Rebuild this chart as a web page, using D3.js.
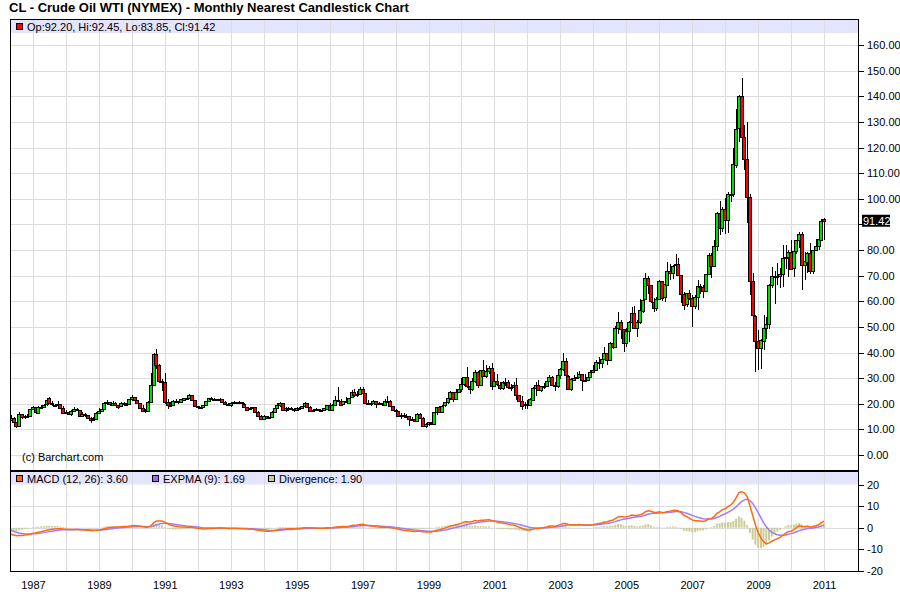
<!DOCTYPE html>
<html><head><meta charset="utf-8">
<script src="https://cdn.jsdelivr.net/npm/d3@7"></script>
<style>
body{margin:0;background:#fff}
svg{display:block}
text{font-family:"Liberation Sans",Arial,Helvetica,sans-serif}
</style>
</head><body>
<svg id="chart" width="900" height="612"></svg>
<script>
// ---------- DATA (monthly, May 1986 .. Jan 2011) ----------
const firstYear = 1986, firstMonth = 4; // May 1986 (0-based month)

const opens = [
/*1986*/ 13.4,14.3,12.8,11.2,15.9,14.8,15.3,15.0,
/*1987*/ 17.9,18.7,16.6,18.8,18.7,19.6,22.2,20.1,19.6,19.6,19.9,18.5,
/*1988*/ 16.7,16.9,16.0,17.1,18.0,17.5,15.2,16.0,15.5,14.5,13.8,14.1,
/*1989*/ 16.4,17.0,17.9,20.1,20.5,19.7,20.3,19.5,18.9,20.2,20.0,19.9,
/*1990*/ 21.8,22.7,21.5,20.3,18.5,17.4,17.1,20.7,27.3,39.5,35.2,28.9,
/*1991*/ 28.4,20.5,19.2,19.6,21.0,21.1,20.6,21.7,22.3,22.2,23.4,21.5,
/*1992*/ 19.1,18.9,18.7,19.4,20.9,22.1,21.6,21.9,21.5,21.7,20.6,19.9,
/*1993*/ 19.5,20.3,20.6,20.4,20.5,20.0,18.9,17.9,18.3,18.8,16.9,15.4,
/*1994*/ 14.2,15.2,14.5,14.8,16.9,18.3,19.4,20.3,17.6,18.4,18.2,18.1,
/*1995*/ 17.8,18.4,18.5,19.2,20.4,18.9,17.4,17.6,17.8,17.5,17.6,18.2,
/*1996*/ 19.6,17.7,19.5,21.5,21.2,19.8,20.9,20.4,22.3,24.4,23.4,23.8,
/*1997*/ 25.9,24.2,20.3,20.4,20.2,20.9,19.8,20.1,19.6,21.2,21.1,19.2,
/*1998*/ 17.6,17.2,15.4,15.6,15.4,15.2,14.2,14.2,13.3,16.1,14.4,11.2,
/*1999*/ 12.1,12.8,12.3,16.8,18.7,16.8,19.3,20.5,22.1,24.5,21.8,24.6,
/*2000*/ 25.6,27.6,30.4,26.9,25.7,29.0,32.5,27.4,33.1,30.8,32.7,33.8,
/*2001*/ 26.8,28.7,27.4,26.3,28.5,28.4,26.3,26.4,27.2,23.4,21.2,19.4,
/*2002*/ 19.8,19.5,21.7,26.3,27.3,25.3,26.9,27.0,29.0,30.5,27.2,26.9,
/*2003*/ 31.2,33.5,36.6,31.0,25.8,29.6,30.2,30.5,31.6,29.2,29.1,30.4,
/*2004*/ 32.5,33.1,36.2,35.8,37.4,39.9,37.1,43.8,42.1,49.6,51.8,49.1,
/*2005*/ 43.5,48.2,51.8,55.4,49.7,52.0,56.5,60.6,68.9,66.2,59.8,57.3,
/*2006*/ 61.0,67.9,61.4,66.6,71.9,71.3,73.9,74.4,70.3,62.9,58.7,63.1,
/*2007*/ 61.1,58.1,61.8,65.9,65.7,64.0,70.7,78.2,74.0,81.7,94.5,88.7,
/*2008*/ 96.0,91.8,101.8,101.6,113.5,127.4,140.0,124.1,115.5,100.6,67.8,54.4,
/*2009*/ 44.6,41.7,44.8,49.7,51.1,66.3,69.9,69.5,70.0,70.6,77.0,77.3,
/*2010*/ 79.4,72.9,79.7,83.8,86.2,74.0,75.6,79.0,71.9,80.0,81.4,84.1,
/*2011*/ 92.20
];
const highs = [
/*1986*/ 15.6,14.8,13.0,16.7,16.0,15.8,15.9,18.1,
/*1987*/ 19.3,18.8,19.0,19.4,19.8,21.6,22.6,21.0,20.0,20.9,19.9,19.0,
/*1988*/ 17.6,17.2,17.6,18.6,18.2,17.6,16.7,16.2,15.6,14.9,14.8,16.6,
/*1989*/ 18.2,18.1,20.7,21.4,20.8,20.9,20.5,19.6,20.5,20.8,20.2,22.0,
/*1990*/ 23.5,22.8,21.6,20.4,19.5,17.8,21.1,31.9,39.8,41.2,35.5,29.5,
/*1991*/ 32.0,22.0,20.5,21.4,21.7,21.2,21.9,22.4,22.6,24.0,23.4,21.6,
/*1992*/ 19.3,19.3,19.6,21.0,22.1,22.8,22.2,22.0,22.2,22.0,20.9,20.1,
/*1993*/ 20.6,21.0,20.8,20.9,20.8,20.1,18.9,18.6,18.9,18.9,17.2,15.5,
/*1994*/ 15.6,15.3,15.0,17.1,18.4,20.1,20.7,20.3,18.6,18.6,18.8,18.2,
/*1995*/ 18.8,18.8,19.3,20.7,20.4,19.0,17.9,18.2,18.0,17.7,18.4,19.6,
/*1996*/ 20.1,19.8,22.9,26.5,21.9,21.0,22.5,22.4,25.3,25.9,24.9,26.6,
/*1997*/ 26.6,24.3,21.3,21.0,21.5,21.1,20.7,20.4,21.8,23.0,21.3,19.3,
/*1998*/ 18.1,17.2,16.3,16.2,15.9,15.2,14.7,14.2,16.3,16.2,14.7,12.6,
/*1999*/ 12.9,13.0,16.9,18.9,19.0,19.4,20.8,22.3,25.0,24.5,25.8,27.3,
/*2000*/ 30.0,30.4,34.4,27.6,30.2,33.1,32.8,33.2,37.2,35.0,34.9,35.9,
/*2001*/ 32.2,31.6,28.6,29.0,29.9,29.4,27.6,28.6,29.9,23.6,22.9,20.5,
/*2002*/ 21.5,22.1,26.4,28.4,29.4,27.1,28.2,29.5,31.2,30.8,28.4,32.7,
/*2003*/ 34.0,39.9,38.0,31.1,30.0,31.4,32.3,32.8,31.7,31.6,32.5,33.0,
/*2004*/ 35.2,37.0,38.3,38.2,42.3,40.0,44.2,49.4,50.5,55.7,52.5,46.0,
/*2005*/ 49.4,52.2,57.6,58.3,52.6,60.9,62.3,70.9,69.8,66.5,61.4,61.8,
/*2006*/ 68.4,68.0,67.3,75.2,74.6,74.0,78.4,77.0,70.3,63.8,62.5,64.2,
/*2007*/ 62.6,62.3,68.1,66.9,66.4,70.8,78.8,78.8,83.9,94.7,99.3,96.8,
/*2008*/ 100.1,102.6,111.8,119.9,135.1,140.4,147.3,128.6,130.0,102.0,71.0,54.7,
/*2009*/ 48.6,45.3,54.7,53.9,66.7,73.4,72.0,75.0,72.9,82.0,82.0,80.0,
/*2010*/ 83.9,80.5,83.9,87.2,87.2,79.3,79.3,82.8,80.0,84.4,88.6,92.0,
/*2011*/ 92.45
];
const lows = [
/*1986*/ 13.2,12.2,10.4,11.0,14.2,14.2,14.7,14.9,
/*1987*/ 17.7,16.4,16.4,18.0,18.6,19.3,20.0,19.2,19.0,19.3,18.0,15.9,
/*1988*/ 16.1,15.8,15.4,16.9,17.1,15.0,14.9,15.0,14.2,12.6,13.4,14.0,
/*1989*/ 16.1,16.7,17.8,19.6,19.3,19.4,19.3,18.1,18.7,19.8,19.2,19.7,
/*1990*/ 21.2,21.0,19.8,17.9,17.1,16.2,16.8,20.5,26.9,33.5,28.0,25.0,
/*1991*/ 20.0,17.8,18.8,19.4,20.6,19.8,20.5,20.9,21.3,22.1,21.2,18.6,
/*1992*/ 17.9,18.3,18.3,19.2,20.5,21.4,21.4,21.0,21.2,20.4,19.8,19.0,
/*1993*/ 18.7,20.1,19.8,20.1,19.8,18.7,17.4,17.6,17.4,16.8,15.0,14.1,
/*1994*/ 13.8,14.1,14.0,14.6,16.8,17.9,18.6,17.4,16.8,17.0,17.6,16.9,
/*1995*/ 17.4,18.0,18.3,19.0,18.6,17.3,16.9,17.4,17.2,17.0,17.5,18.1,
/*1996*/ 17.3,17.6,19.3,20.5,19.3,19.6,20.3,20.2,22.3,22.5,22.8,23.6,
/*1997*/ 23.6,20.1,19.8,19.2,20.0,18.5,19.5,19.0,19.0,20.6,19.1,17.5,
/*1998*/ 16.2,15.4,14.2,15.0,14.8,11.4,13.6,12.8,13.2,13.9,10.8,10.4,
/*1999*/ 11.3,11.6,12.2,15.8,16.3,16.4,18.8,19.8,21.4,20.8,21.6,24.3,
/*2000*/ 24.5,27.0,26.3,23.7,24.9,28.1,26.2,27.4,30.5,30.1,31.5,25.3,
/*2001*/ 26.7,26.8,25.3,25.5,27.1,25.6,25.0,26.1,21.3,20.8,17.5,17.8,
/*2002*/ 17.9,19.3,21.5,23.2,25.1,24.6,25.7,26.4,28.7,26.8,25.1,26.3,
/*2003*/ 29.6,32.7,27.0,25.2,25.0,29.4,29.6,30.3,25.0,28.6,28.7,29.9,
/*2004*/ 32.2,32.6,33.6,33.8,37.3,35.1,37.0,41.5,42.0,47.4,45.1,40.2,
/*2005*/ 42.1,44.2,51.2,49.3,46.2,51.1,55.4,60.4,62.8,59.4,55.9,56.3,
/*2006*/ 60.8,60.0,59.7,66.2,68.2,68.8,73.0,70.0,59.5,56.6,57.8,60.6,
/*2007*/ 49.9,57.1,56.5,62.8,61.4,64.0,70.4,69.0,74.0,79.8,86.0,87.0,
/*2008*/ 86.1,86.6,98.7,100.6,112.0,122.0,120.4,111.3,90.5,62.5,48.5,32.4,
/*2009*/ 33.2,33.6,40.9,45.1,49.3,65.2,59.1,66.2,65.0,65.7,72.4,69.5,
/*2010*/ 72.4,69.5,78.5,80.6,64.2,68.2,71.0,70.8,70.8,79.6,80.0,86.0,
/*2011*/ 83.85
];
const closes = [
/*1986*/ 14.3,12.8,11.2,15.9,14.8,15.3,15.0,17.9,
/*1987*/ 18.7,16.6,18.8,18.7,19.4,21.3,20.1,19.7,19.6,19.9,18.5,16.7,
/*1988*/ 16.9,16.0,17.1,18.0,17.5,15.2,16.0,15.5,14.5,13.8,14.1,16.4,
/*1989*/ 17.0,17.9,20.1,20.5,19.7,20.3,19.5,18.9,20.2,20.0,19.9,21.8,
/*1990*/ 22.7,21.5,20.3,18.5,17.4,17.1,20.7,27.3,39.5,35.2,28.9,28.4,
/*1991*/ 20.5,19.2,19.6,21.0,21.1,20.6,21.7,22.3,22.2,23.4,21.5,19.1,
/*1992*/ 18.9,18.7,19.4,20.9,22.1,21.6,21.9,21.5,21.7,20.6,19.9,19.5,
/*1993*/ 20.3,20.6,20.4,20.5,20.0,18.9,17.9,18.3,18.8,16.9,15.4,14.2,
/*1994*/ 15.2,14.5,14.8,16.9,18.3,19.4,20.3,17.6,18.4,18.2,18.1,17.8,
/*1995*/ 18.4,18.5,19.2,20.4,18.9,17.4,17.6,17.8,17.5,17.6,18.2,19.6,
/*1996*/ 17.7,19.5,21.5,21.2,19.8,20.9,20.4,22.3,24.4,23.4,23.8,25.9,
/*1997*/ 24.2,20.3,20.4,20.2,20.9,19.8,20.1,19.6,21.2,21.1,19.2,17.6,
/*1998*/ 17.2,15.4,15.6,15.4,15.2,14.2,14.2,13.3,16.1,14.4,11.2,12.1,
/*1999*/ 12.8,12.3,16.8,18.7,16.8,19.3,20.5,22.1,24.5,21.8,24.6,25.6,
/*2000*/ 27.6,30.4,26.9,25.7,29.0,32.5,27.4,33.1,30.8,32.7,33.8,26.8,
/*2001*/ 28.7,27.4,26.3,28.5,28.4,26.3,26.4,27.2,23.4,21.2,19.4,19.8,
/*2002*/ 19.5,21.7,26.3,27.3,25.3,26.9,27.0,29.0,30.5,27.2,26.9,31.2,
/*2003*/ 33.5,36.6,31.0,25.8,29.6,30.2,30.5,31.6,29.2,29.1,30.4,32.5,
/*2004*/ 33.1,36.2,35.8,37.4,39.9,37.1,43.8,42.1,49.6,51.8,49.1,43.5,
/*2005*/ 48.2,51.8,55.4,49.7,52.0,56.5,60.6,68.9,66.2,59.8,57.3,61.0,
/*2006*/ 67.9,61.4,66.6,71.9,71.3,73.9,74.4,70.3,62.9,58.7,63.1,61.1,
/*2007*/ 58.1,61.8,65.9,65.7,64.0,70.7,78.2,74.0,81.7,94.5,88.7,96.0,
/*2008*/ 91.8,101.8,101.6,113.5,127.4,140.0,124.1,115.5,100.6,67.8,54.4,44.6,
/*2009*/ 41.7,44.8,49.7,51.1,66.3,69.9,69.5,70.0,70.6,77.0,77.3,79.4,
/*2010*/ 72.9,79.7,83.8,86.2,74.0,75.6,79.0,71.9,80.0,81.4,84.1,91.4,
/*2011*/ 91.42
];
// monthly closes before the visible window (Jan 1985 .. Apr 1986), used only to warm up the indicator
const priorCloses = [25.9,27.3,28.2,27.0,27.4,26.5,27.3,27.9,29.0,30.0,31.0,26.3, 18.8,13.3,10.4,13.3];

const priceTicks = [0,10,20,30,40,50,60,70,80,90,100,110,120,130,140,150,160];
const macdTicks = [-20,-10,0,10,20];
const gridYears = d3.range(1987, 2012);
const labelYears = [1987,1989,1991,1993,1995,1997,1999,2001,2003,2005,2007,2009,2011];

const titleText = "CL - Crude Oil WTI (NYMEX) - Monthly Nearest Candlestick Chart";
const quoteText = "Op:92.20, Hi:92.45, Lo:83.85, Cl:91.42";
const macdLegend = ["MACD (12, 26): 3.60", "EXPMA (9): 1.69", "Divergence: 1.90"];
const copyText = "(c) Barchart.com";

// ---------- BUILD ----------
const data = closes.map((c,i)=>({
  date: new Date(firstYear, firstMonth + i, 1),
  o: opens[i], h: highs[i], l: lows[i], c: c
}));

function ema(arr, n){
  const a = 2/(n+1); const out=[]; let e = arr[0];
  arr.forEach((v,i)=>{ e = i===0 ? v : e + a*(v-e); out.push(e); });
  return out;
}
const allC = priorCloses.concat(closes);
const e12 = ema(allC,12), e26 = ema(allC,26);
const macdAll = allC.map((v,i)=>e12[i]-e26[i]);
const sigAll = ema(macdAll, 9);
const off = priorCloses.length;
data.forEach((d,i)=>{ d.m = macdAll[i+off]; d.s = sigAll[i+off]; d.dv = d.m - d.s; });

// ---------- LAYOUT ----------
const L = 10, R = 858, T = 19, B1 = 470, T2 = 472, B2 = 571;
const svg = d3.select("#chart");
const x = d3.scaleTime().domain([new Date(1986,0,1), new Date(2012,0,1)]).range([0, 857]);
const yP = d3.scaleLinear().domain([0,160]).range([455,45]);
const yM = d3.scaleLinear().domain([-20,20]).range([571,484.5]);

const grid = "#dcdcdc", band = "#e4e4fc";
const last = data[data.length-1];

svg.append("rect").attr("width",900).attr("height",612).attr("fill","#fff");

// bands
svg.append("rect").attr("x",L).attr("y",T).attr("width",R-L).attr("height",14).attr("fill",band);
svg.append("rect").attr("x",L).attr("y",T2).attr("width",R-L).attr("height",yM(20)-T2).attr("fill",band);

// gridlines
const g = svg.append("g").attr("stroke",grid).attr("stroke-width",1).attr("shape-rendering","crispEdges");
g.selectAll(".hp").data(priceTicks).join("line")
  .attr("x1",L).attr("x2",R).attr("y1",d=>Math.round(yP(d))+0.5).attr("y2",d=>Math.round(yP(d))+0.5);
g.selectAll(".hm").data(macdTicks.filter(d=>d>-20 && d<20)).join("line").attr("class","hm")
  .attr("x1",L).attr("x2",R).attr("y1",d=>Math.round(yM(d))+0.5).attr("y2",d=>Math.round(yM(d))+0.5);
g.selectAll(".vp").data(gridYears).join("line").attr("class","vp")
  .attr("x1",d=>Math.round(x(new Date(d,0,1)))+0.5).attr("x2",d=>Math.round(x(new Date(d,0,1)))+0.5)
  .attr("y1",T).attr("y2",B1);
g.selectAll(".vm").data(gridYears).join("line").attr("class","vm")
  .attr("x1",d=>Math.round(x(new Date(d,0,1)))+0.5).attr("x2",d=>Math.round(x(new Date(d,0,1)))+0.5)
  .attr("y1",T2).attr("y2",B2);

// clip paths
const defs = svg.append("defs");
defs.append("clipPath").attr("id","cp1").append("rect").attr("x",L+1).attr("y",T).attr("width",R-L-1).attr("height",B1-T);
defs.append("clipPath").attr("id","cp2").append("rect").attr("x",L+1).attr("y",T2).attr("width",R-L-1).attr("height",B2-T2);

// candles
const cg = svg.append("g").attr("clip-path","url(#cp1)").attr("shape-rendering","crispEdges");
cg.selectAll(".wick").data(data).join("line")
  .attr("x1",d=>Math.round(x(d.date))+0.5).attr("x2",d=>Math.round(x(d.date))+0.5)
  .attr("y1",d=>yP(d.h)).attr("y2",d=>yP(d.l))
  .attr("stroke","#000").attr("stroke-width",1);
cg.selectAll(".body").data(data).join("rect")
  .attr("x",d=>Math.round(x(d.date))-1.5).attr("width",3)
  .attr("y",d=>Math.round(yP(Math.max(d.o,d.c)))+0.5)
  .attr("height",d=>Math.max(1, Math.round(Math.abs(yP(d.o)-yP(d.c)))))
  .attr("fill",d=>d.c>=d.o ? "#00e000" : "#ff0000")
  .attr("stroke","#000").attr("stroke-width",1);

// MACD panel
const mg = svg.append("g").attr("clip-path","url(#cp2)");
mg.selectAll(".dv").data(data).join("rect")
  .attr("x",d=>x(d.date)-1).attr("width",2)
  .attr("y",d=>Math.min(yM(d.dv), yM(0)))
  .attr("height",d=>Math.abs(yM(d.dv)-yM(0)))
  .attr("fill","#cccc99");
mg.append("path").datum(data)
  .attr("d", d3.line().x(d=>x(d.date)).y(d=>yM(d.s)))
  .attr("fill","none").attr("stroke","#a07cff").attr("stroke-width",1.5);
mg.append("path").datum(data)
  .attr("d", d3.line().x(d=>x(d.date)).y(d=>yM(d.m)))
  .attr("fill","none").attr("stroke","#ff6a10").attr("stroke-width",1.5);

// frame
const fr = svg.append("g").attr("stroke","#000").attr("shape-rendering","crispEdges");
fr.append("line").attr("x1",L+0.5).attr("x2",L+0.5).attr("y1",T).attr("y2",B2+1);
fr.append("line").attr("x1",L).attr("x2",R).attr("y1",T+0.5).attr("y2",T+0.5);
fr.append("line").attr("x1",R+0.5).attr("x2",R+0.5).attr("y1",T).attr("y2",B2+1);
fr.append("line").attr("x1",L).attr("x2",R+1).attr("y1",B1+1).attr("y2",B1+1).attr("stroke-width",2);
fr.append("line").attr("x1",L).attr("x2",R+1).attr("y1",B2+0.5).attr("y2",B2+0.5);

// right axes (the tick label hidden behind the last-price tag is not drawn)
const tagTop = yP(last.c)-6, tagBot = yP(last.c)+6;
const ax1 = svg.append("g").attr("transform",`translate(${R+1},0)`)
  .call(d3.axisRight(yP).tickValues(priceTicks).tickSize(5).tickFormat(d3.format(".2f")));
ax1.selectAll(".tick text").filter(d=>yP(d)+6>tagTop && yP(d)-6<tagBot).remove();
const ax2 = svg.append("g").attr("transform",`translate(${R+1},0)`)
  .call(d3.axisRight(yM).tickValues(macdTicks).tickSize(5).tickFormat(d=>d<0?"-"+Math.abs(d):d));
[ax1,ax2].forEach(a=>{
  a.select(".domain").remove();
  a.selectAll("line").attr("stroke","#000").attr("shape-rendering","crispEdges");
  a.selectAll("text").attr("font-size",11).attr("fill","#000").attr("x",8)
   .attr("font-family","'Liberation Sans',Arial,sans-serif");
});

// bottom axis labels
const ax3 = svg.append("g").attr("transform",`translate(0,${B2})`)
  .call(d3.axisBottom(x).tickValues(labelYears.map(y=>new Date(y,0,1))).tickSize(0).tickFormat(d3.timeFormat("%Y")));
ax3.select(".domain").remove();
ax3.selectAll("text").attr("font-size",11).attr("fill","#000").attr("dy","0.71em").attr("y",10)
  .attr("font-family","'Liberation Sans',Arial,sans-serif");

// last price tag
svg.append("rect").attr("x",R+4).attr("y",tagTop).attr("width",28).attr("height",12).attr("fill","#000");
svg.append("text").attr("x",R+5).attr("y",yP(last.c)+4).attr("font-size",11).attr("fill","#fff").text(d3.format(".2f")(last.c));

// title
svg.append("text").attr("x",9).attr("y",12).attr("font-size",13).attr("font-weight","bold").attr("fill","#000").text(titleText);

// quote legend
svg.append("rect").attr("x",16.5).attr("y",23.5).attr("width",6).attr("height",6).attr("fill","#ff0000").attr("stroke","#000");
svg.append("text").attr("x",27).attr("y",30.5).attr("font-size",11).attr("fill","#000").text(quoteText);

// copyright
svg.append("text").attr("x",22).attr("y",461).attr("font-size",11).attr("fill","#000").text(copyText);

// MACD legend
const legColors = ["#ff6a10","#9966ff","#cccc99"];
const legX = [16, 152, 268];
macdLegend.forEach((t,i)=>{
  svg.append("rect").attr("x",legX[i]+0.5).attr("y",475.5).attr("width",6).attr("height",6)
    .attr("fill",legColors[i]).attr("stroke","#000");
  svg.append("text").attr("x",legX[i]+11).attr("y",482.5).attr("font-size",11).attr("fill","#000").text(t);
});
</script>
</body></html>
